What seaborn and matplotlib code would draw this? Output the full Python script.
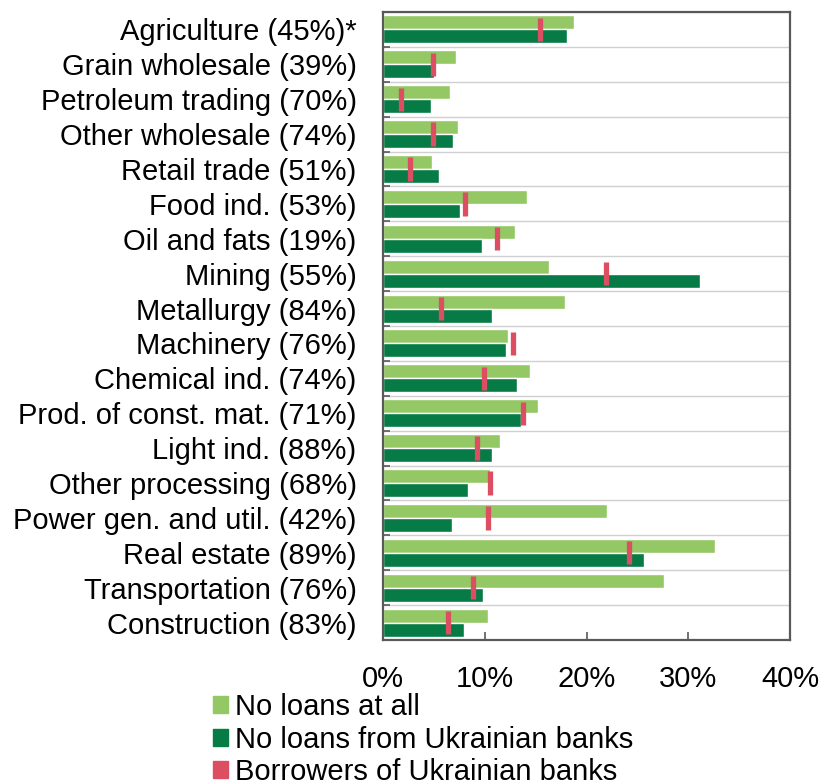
import numpy as np
import pandas as pd
import matplotlib
matplotlib.use("Agg")
import matplotlib.pyplot as plt
import seaborn as sns
from matplotlib.patches import Patch

sectors = [
    "Agriculture (45%)*", "Grain wholesale (39%)", "Petroleum trading (70%)",
    "Other wholesale (74%)", "Retail trade (51%)", "Food ind. (53%)",
    "Oil and fats (19%)", "Mining (55%)", "Metallurgy (84%)", "Machinery (76%)",
    "Chemical ind. (74%)", "Prod. of const. mat. (71%)", "Light ind. (88%)",
    "Other processing (68%)", "Power gen. and util. (42%)", "Real estate (89%)",
    "Transportation (76%)", "Construction (83%)",
]
no_loans = [18.8, 7.2, 6.6, 7.4, 4.8, 14.2, 13.0, 16.3, 17.9, 12.3,
            14.4, 15.2, 11.5, 10.5, 22.0, 32.6, 27.6, 10.3]
no_ua_loans = [18.1, 5.0, 4.7, 6.9, 5.5, 7.6, 9.7, 31.2, 10.7, 12.1,
               13.2, 13.6, 10.7, 8.4, 6.8, 25.7, 9.8, 8.0]
ua_borrowers = [15.4, 4.9, 1.8, 4.9, 2.7, 8.1, 11.2, 21.9, 5.7, 12.8,
                9.9, 13.8, 9.2, 10.5, 10.3, 24.2, 8.8, 6.4]
x_ticks = [0, 10, 20, 30, 40]
series_names = ["No loans at all", "No loans from Ukrainian banks",
                "Borrowers of Ukrainian banks"]

LIGHT = "#93C864"
DARK = "#067B45"
RED = "#DC4E62"
FRAME = "#595959"

sns.set_theme(style="white")
plt.rcParams["font.family"] = ["Liberation Sans", "DejaVu Sans"]
plt.rcParams["text.color"] = "black"

fig = plt.figure(figsize=(8.22, 7.83), dpi=100)
ax = fig.add_axes([383 / 822, 1 - 640 / 783, 407 / 822, 628 / 783])

df = pd.DataFrame({
    "sector": sectors * 2,
    "share": no_loans + no_ua_loans,
    "group": [series_names[0]] * len(sectors) + [series_names[1]] * len(sectors),
})
sns.barplot(data=df, x="share", y="sector", hue="group",
            hue_order=series_names[:2], palette=[LIGHT, DARK],
            orient="h", width=0.8, dodge=True, saturation=1,
            legend=False, ax=ax)

ypos = np.arange(len(sectors))
ax.vlines(ua_borrowers, ypos - 0.335, ypos + 0.335, colors=RED, lw=3.8, zorder=5)

ax.set_xlim(0, 40)
ax.set_ylim(len(sectors) - 0.5, -0.5)
ax.set_xticks(x_ticks)
ax.set_xticklabels([f"{v}%" for v in x_ticks])
ax.set_xlabel("")
ax.set_ylabel("")

ax.set_yticks(np.arange(-0.5, len(sectors)), minor=True)
ax.tick_params(axis="y", which="major", length=0, pad=19, labelsize=21,
               labelcolor="black")
ax.tick_params(axis="y", which="minor", direction="in", length=5, width=1.2,
               color=FRAME, left=True)
ax.tick_params(axis="x", which="major", direction="in", length=6, width=1.2,
               color=FRAME, pad=18, labelsize=21, labelcolor="black", bottom=True)
ax.grid(axis="y", which="minor", color="#D0D0D0", lw=1)
ax.grid(axis="x", which="major", visible=False)
ax.set_axisbelow(True)

for sp in ax.spines.values():
    sp.set_visible(True)
    sp.set_color(FRAME)
    sp.set_linewidth(1.6)

handles = [Patch(color=LIGHT), Patch(color=DARK), Patch(color=RED)]
fig.legend(handles, series_names, loc="upper left",
           bbox_to_anchor=(213 / 822, 1 - 693 / 783), frameon=False,
           fontsize=21, handlelength=0.52, handleheight=0.52,
           handletextpad=0.25, labelspacing=0.16, borderpad=0,
           borderaxespad=0, labelcolor="black")

fig.savefig("out.png", dpi=100)
